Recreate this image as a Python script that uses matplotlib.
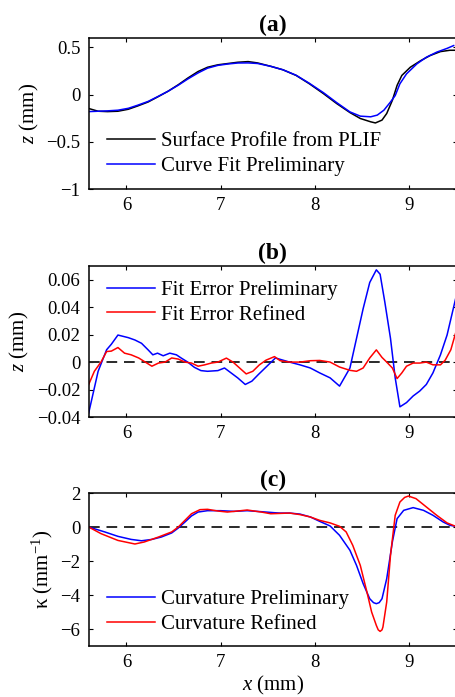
import matplotlib
matplotlib.use("Agg")
import matplotlib.pyplot as plt
from matplotlib.ticker import FuncFormatter

plt.rcParams['font.family'] = ['Liberation Serif', 'DejaVu Serif']
plt.rcParams['mathtext.fontset'] = 'custom'
plt.rcParams['mathtext.rm'] = 'Liberation Serif'
plt.rcParams['mathtext.it'] = 'Liberation Serif:italic'
plt.rcParams['mathtext.bf'] = 'Liberation Serif:bold'

# ---------------- data ----------------
# (a) surface profile
xa_black = [5.60, 5.70, 5.80, 5.91, 6.02, 6.12, 6.23, 6.33, 6.44, 6.55, 6.65, 6.76, 6.86, 6.97,
            7.08, 7.18, 7.29, 7.39, 7.53, 7.66, 7.80, 7.94, 8.09, 8.23, 8.37, 8.48, 8.59, 8.64,
            8.71, 8.76, 8.82, 8.87, 8.92, 9.01, 9.12, 9.22, 9.33, 9.43, 9.49]
za_black = [-0.147, -0.176, -0.18, -0.176, -0.155, -0.12, -0.078, -0.025, 0.035, 0.105, 0.175,
            0.245, 0.29, 0.316, 0.33, 0.343, 0.35, 0.336, 0.30, 0.263, 0.203, 0.115, 0.01,
            -0.095, -0.19, -0.253, -0.288, -0.30, -0.27, -0.2, -0.06, 0.098, 0.203, 0.29,
            0.36, 0.414, 0.456, 0.47, 0.47]
xa_blue = [5.60, 5.70, 5.80, 5.91, 6.02, 6.12, 6.23, 6.33, 6.44, 6.55, 6.65, 6.76, 6.86, 6.97,
           7.08, 7.18, 7.29, 7.39, 7.53, 7.66, 7.80, 7.94, 8.09, 8.23, 8.37, 8.48, 8.59, 8.66,
           8.73, 8.80, 8.85, 8.90, 8.97, 9.08, 9.18, 9.29, 9.40, 9.47]
za_blue = [-0.18, -0.176, -0.172, -0.165, -0.145, -0.112, -0.072, -0.022, 0.035, 0.1, 0.165,
           0.23, 0.28, 0.31, 0.325, 0.335, 0.336, 0.33, 0.30, 0.263, 0.205, 0.12, 0.02,
           -0.085, -0.183, -0.228, -0.235, -0.217, -0.165, -0.078, -0.01, 0.115, 0.22,
           0.326, 0.396, 0.45, 0.49, 0.52]

# (b) fit errors
xb_blue = [5.60, 5.70, 5.79, 5.84, 5.91, 6.02, 6.09, 6.16, 6.23, 6.28, 6.33, 6.39, 6.46, 6.53,
           6.58, 6.65, 6.72, 6.79, 6.86, 6.97, 7.04, 7.11, 7.18, 7.26, 7.33, 7.40, 7.49, 7.58,
           7.63, 7.73, 7.84, 7.95, 8.05, 8.16, 8.26, 8.37, 8.44, 8.51, 8.58, 8.65, 8.69, 8.74,
           8.80, 8.85, 8.90, 8.97, 9.04, 9.11, 9.18, 9.25, 9.33, 9.40, 9.49]
zb_blue = [-0.037, -0.0067, 0.009, 0.013, 0.0197, 0.0178, 0.0161, 0.0137, 0.0089, 0.0053,
           0.0065, 0.0046, 0.0065, 0.0053, 0.003, 0.0, -0.0038, -0.0062, -0.0067, -0.0062,
           -0.0043, -0.0079, -0.0115, -0.0163, -0.0139, -0.009, -0.003, 0.003, 0.002, 0.0,
           -0.002, -0.0043, -0.0079, -0.0115, -0.0175, -0.0043, 0.0173, 0.0389, 0.058,
           0.0672, 0.064, 0.0437, 0.0173, -0.0115, -0.0326, -0.0295, -0.0247, -0.0211,
           -0.0163, -0.0079, 0.0053, 0.0197, 0.046]
xb_red = [5.60, 5.66, 5.73, 5.79, 5.84, 5.91, 5.98, 6.05, 6.13, 6.20, 6.27, 6.34, 6.41, 6.48,
          6.55, 6.62, 6.69, 6.76, 6.83, 6.90, 6.97, 7.06, 7.13, 7.20, 7.27, 7.34, 7.41, 7.48,
          7.57, 7.63, 7.73, 7.84, 7.95, 8.05, 8.16, 8.26, 8.37, 8.44, 8.51, 8.58, 8.65, 8.71,
          8.76, 8.82, 8.87, 8.92, 8.97, 9.04, 9.11, 9.18, 9.25, 9.33, 9.38, 9.44, 9.49]
zb_red = [-0.0163, -0.0067, 0.0, 0.0077, 0.008, 0.0106, 0.0065, 0.0053, 0.003, 0.0, -0.003,
          -0.0007, 0.0, 0.003, 0.0022, 0.0, -0.0007, -0.003, -0.002, -0.0007, 0.0, 0.0029,
          0.0, -0.0043, -0.0086, -0.0067, -0.002, 0.0014, 0.004, 0.001, 0.0, 0.0, 0.001,
          0.0012, 0.0, -0.0036, -0.006, -0.0067, -0.0043, 0.003, 0.0089, 0.0034, 0.0,
          -0.0043, -0.012, -0.0079, -0.003, -0.0007, -0.0007, 0.0, -0.002, -0.002, 0.0014,
          0.009, 0.021]

# (c) curvature
xc_blue = [5.60, 5.77, 5.91, 6.05, 6.16, 6.27, 6.37, 6.48, 6.55, 6.62, 6.69, 6.76, 6.86, 7.00,
           7.14, 7.28, 7.43, 7.57, 7.63, 7.73, 7.84, 7.95, 8.05, 8.16, 8.26, 8.37, 8.44, 8.51,
           8.58, 8.62, 8.65, 8.68, 8.71, 8.76, 8.82, 8.87, 8.94, 9.04, 9.15, 9.25, 9.36, 9.43,
           9.49]
kc_blue = [0, -0.29, -0.55, -0.73, -0.81, -0.73, -0.59, -0.35, -0.06, 0.29, 0.65, 0.88, 0.96,
           0.96, 0.92, 0.96, 0.90, 0.84, 0.82, 0.82, 0.76, 0.59, 0.33, 0.06, -0.49, -1.37,
           -2.26, -3.33, -4.22, -4.45, -4.51, -4.45, -4.22, -3.04, -0.88, 0.49, 0.98, 1.14,
           0.98, 0.69, 0.29, 0.10, 0.04]
xc_red = [5.60, 5.73, 5.91, 6.09, 6.19, 6.34, 6.48, 6.55, 6.62, 6.69, 6.78, 6.86, 6.97, 7.07,
          7.18, 7.28, 7.43, 7.53, 7.73, 7.84, 7.95, 8.05, 8.16, 8.26, 8.33, 8.40, 8.48, 8.55,
          8.60, 8.65, 8.67, 8.69, 8.71, 8.72, 8.76, 8.80, 8.85, 8.90, 8.95, 8.99, 9.07, 9.18,
          9.29, 9.40, 9.49]
kc_red = [0, -0.39, -0.79, -1.0, -0.88, -0.59, -0.29, 0, 0.39, 0.78, 1.02, 1.04, 0.94, 0.88,
          0.94, 1.0, 0.88, 0.78, 0.82, 0.73, 0.59, 0.39, 0.24, 0.04, -0.29, -1.08, -2.26,
          -3.82, -5.0, -5.79, -6.05, -6.14, -6.05, -5.88, -4.41, -1.67, 0.69, 1.47, 1.74,
          1.82, 1.67, 1.18, 0.69, 0.24, 0.04]

xticks = [6, 7, 8, 9]
yticks_a = [-1, -0.5, 0, 0.5]
yticks_b = [-0.04, -0.02, 0, 0.02, 0.04, 0.06]
yticks_c = [-6, -4, -2, 0, 2]

# ---------------- figure ----------------
W, H = 455, 697
fig = plt.figure(figsize=(W / 100, H / 100), dpi=100)

left_px, right_px = 88.7, 456.5


def make_ax(top_px, bot_px):
    return fig.add_axes([left_px / W, 1 - bot_px / H, (right_px - left_px) / W,
                         (bot_px - top_px) / H])


axa = make_ax(38, 189)
axb = make_ax(266, 417)
axc = make_ax(493, 646)

fmt = FuncFormatter(lambda v, p: ('%g' % v).replace('-', '\u2212'))
TICK_FS = 13.5
LEG_FS = 15
for ax in (axa, axb, axc):
    ax.set_xlim(5.6, 9.5)
    ax.set_xticks(xticks)
    ax.tick_params(direction='in', top=True, right=True, length=3, width=0.8,
                   labelsize=TICK_FS, pad=6)
    ax.yaxis.set_major_formatter(fmt)
    for s in ax.spines.values():
        s.set_linewidth(1.1)

lw = 1.1
# (a)
axa.plot(xa_black, za_black, color='black', lw=lw, label='Surface Profile from PLIF')
axa.plot(xa_blue, za_blue, color='blue', lw=lw, label='Curve Fit Preliminary')
axa.set_ylim(-1, 0.6)
axa.set_yticks(yticks_a)
axa.set_ylabel(r'$z$ (mm)', fontsize=LEG_FS)
axa.set_title('(a)', fontsize=17, fontweight='bold', pad=5)

# (b)
axb.axhline(0, color='#2a2a2a', lw=1.4, dashes=(5.5, 3.5))
axb.plot(xb_blue, zb_blue, color='blue', lw=lw, label='Fit Error Preliminary')
axb.plot(xb_red, zb_red, color='red', lw=lw, label='Fit Error Refined')
axb.set_ylim(-0.04, 0.07)
axb.set_yticks(yticks_b)
axb.set_ylabel(r'$z$ (mm)', fontsize=LEG_FS)
axb.set_title('(b)', fontsize=17, fontweight='bold', pad=5)

# (c)
axc.axhline(0, color='#2a2a2a', lw=1.4, dashes=(5.5, 3.5))
axc.plot(xc_blue, kc_blue, color='blue', lw=lw, label='Curvature Preliminary')
axc.plot(xc_red, kc_red, color='red', lw=lw, label='Curvature Refined')
axc.set_ylim(-7, 2)
axc.set_yticks(yticks_c)
axc.set_ylabel('\u03ba (mm$^{\\mathregular{\u22121}}$)', fontsize=LEG_FS)
axc.set_xlabel(r'$x$ (mm)', fontsize=LEG_FS, labelpad=2)
axc.set_title('(c)', fontsize=17, fontweight='bold', pad=5)

leg_kw = dict(frameon=False, fontsize=LEG_FS, handlelength=2.3, handletextpad=0.3,
              labelspacing=0.25, borderpad=0, borderaxespad=0, loc='center left')
axa.legend(bbox_to_anchor=(0.05, 0.232), **leg_kw)
axb.legend(bbox_to_anchor=(0.05, 0.758), **leg_kw)
axc.legend(bbox_to_anchor=(0.05, 0.222), **leg_kw)

fig.savefig('out.png', dpi=100)
